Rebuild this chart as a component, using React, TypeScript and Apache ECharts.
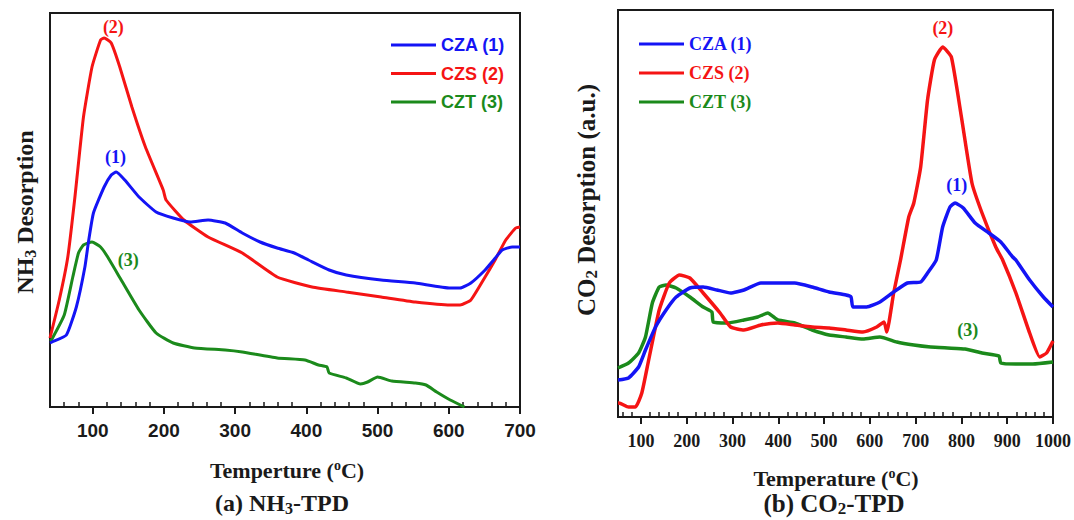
import React, { useEffect, useRef } from "react";
import * as echarts from "echarts";

// ---- NH3-TPD (left panel) : [temperature °C, desorption a.u.]
const nh3CZA: [number, number][] = [
  [40, 64], [43, 65], [63, 72], [77, 100], [89, 140], [94, 165], [101, 194], [116, 220], [126, 232], [133, 235],
  [145, 227], [165, 210], [189, 195], [213, 189], [237, 185], [262, 187], [286, 184], [310, 174], [335, 165],
  [359, 159], [383, 154], [403, 147], [432, 137], [456, 132], [505, 127], [553, 124], [602, 119], [616, 119],
  [631, 124], [651, 137], [663, 147], [675, 157], [689, 160], [700, 160],
];
const nh3CZS: [number, number][] = [
  [40, 69], [53, 107], [65, 150], [75, 210], [87, 290], [99, 340], [111, 367], [116, 369], [126, 364], [138, 340],
  [155, 300], [174, 260], [199, 217], [203, 207], [228, 187], [262, 170], [310, 154], [359, 130], [408, 120],
  [456, 115], [505, 110], [553, 105], [602, 102], [616, 102], [631, 107], [651, 130], [665, 147], [680, 167],
  [694, 179], [700, 180],
];
const nh3CZT: [number, number][] = [
  [40, 66], [42, 67], [60, 92], [72, 130], [80, 154], [87, 162], [99, 165], [111, 160], [121, 150], [140, 127],
  [165, 97], [189, 74], [213, 64], [243, 59], [286, 57], [310, 55], [359, 49], [398, 47], [417, 42], [429, 40],
  [432, 34], [456, 29], [476, 23], [486, 25], [500, 30], [520, 26], [553, 24], [568, 22], [583, 15], [602, 7],
  [622, 0],
];

// ---- CO2-TPD (right panel)
const co2CZA: [number, number][] = [
  [50, 37], [73, 39], [95, 50], [110, 67], [132, 90], [155, 107], [177, 120], [207, 129], [236, 130], [266, 127],
  [296, 124], [325, 127], [362, 134], [399, 134], [436, 134], [474, 130], [511, 125], [548, 122], [559, 120],
  [563, 110], [593, 110], [622, 115], [652, 125], [682, 134], [711, 135], [726, 144], [745, 157], [759, 190],
  [775, 210], [786, 214], [804, 209], [830, 194], [860, 184], [886, 175], [912, 160], [919, 157], [949, 137],
  [979, 120], [1000, 110],
];
const co2CZS: [number, number][] = [
  [50, 14], [52, 14], [73, 10], [88, 10], [102, 24], [117, 57], [140, 107], [162, 134], [184, 142], [207, 139],
  [236, 124], [273, 104], [296, 90], [325, 87], [362, 92], [399, 94], [436, 92], [474, 90], [511, 89], [548, 87],
  [585, 85], [615, 90], [631, 95], [637, 85], [652, 124], [667, 157], [685, 200], [696, 214], [711, 250],
  [726, 317], [741, 357], [759, 370], [778, 360], [800, 300], [823, 234], [845, 204], [875, 170], [890, 157],
  [919, 124], [949, 84], [971, 60], [986, 64], [1000, 76],
];
const co2CZT: [number, number][] = [
  [50, 49], [73, 54], [95, 64], [110, 80], [125, 114], [140, 130], [155, 132], [177, 129], [207, 120], [236, 110],
  [255, 105], [258, 95], [288, 94], [325, 97], [355, 100], [377, 104], [399, 97], [436, 94], [474, 87], [511, 82],
  [548, 80], [585, 78], [622, 80], [659, 75], [696, 72], [733, 70], [770, 69], [808, 68], [845, 64], [882, 61],
  [886, 54], [919, 53], [956, 53], [1000, 55],
];

// ---- axis ticks
const nh3MajorTicks = [100, 200, 300, 400, 500, 600, 700];
const nh3MinorTicks = [60, 80, 120, 140, 160, 180, 220, 240, 260, 280, 320, 340, 360, 380, 420, 440, 460, 480,
  520, 540, 560, 580, 620, 640, 660, 680];
const co2MajorTicks = [100, 200, 300, 400, 500, 600, 700, 800, 900, 1000];
const co2MinorTicks = [60, 80, 120, 140, 160, 180, 220, 240, 260, 280, 320, 340, 360, 380, 420, 440, 460, 480,
  520, 540, 560, 580, 620, 640, 660, 680, 720, 740, 760, 780, 820, 840, 860, 880, 920, 940, 960, 980];

// ---- series names & peak labels [T, value]
const names = ["CZA (1)", "CZS (2)", "CZT (3)"];
const nh3Peaks: [number, number][] = [[132, 250], [129, 380], [150, 147]];
const co2Peaks: [number, number][] = [[790, 232], [759.5, 389], [814, 87]];
const peakTexts = ["(1)", "(2)", "(3)"];

const BLUE = "#1414f5";
const RED = "#f51414";
const GREEN = "#1b8a1b";
const colors = [BLUE, RED, GREEN];
const SERIF = "'Liberation Serif', 'Times New Roman', serif";
const SANS = "'Liberation Sans', Arial, sans-serif";
const INK = "#1a1a1a";

export default function App() {
  const ref = useRef<HTMLDivElement>(null);
  useEffect(() => {
    if (!ref.current) return;
    const chart = echarts.init(ref.current, undefined, { renderer: "svg" });

    const mkSeries = (data: [number, number][], i: number, panel: number) => {
      const peaks = panel === 0 ? nh3Peaks : co2Peaks;
      return {
        type: "line",
        name: names[i],
        xAxisIndex: panel === 0 ? 0 : 2,
        yAxisIndex: panel,
        data,
        symbol: "none",
        showSymbol: false,
        smooth: 0.15,
        color: colors[i],
        lineStyle: { color: colors[i], width: panel === 0 ? 3 : 3.5 },
        z: 3 - i,
        markPoint: {
          symbol: "circle",
          symbolSize: 1,
          itemStyle: { color: "rgba(0,0,0,0)" },
          label: {
            show: true,
            position: "inside",
            formatter: peakTexts[i],
            color: colors[i],
            fontFamily: SERIF,
            fontWeight: "bold",
            fontSize: 18,
          },
          data: [{ coord: peaks[i] }],
        },
      };
    };

    const majorAxis = (grid: number, min: number, max: number, ticks: number[], font: string, fs: number, margin: number) => ({
      type: "value",
      gridIndex: grid,
      position: "bottom",
      min,
      max,
      axisLine: { show: true, onZero: false, lineStyle: { color: INK, width: 2 } },
      axisTick: { show: true, inside: false, length: 7, customValues: ticks, lineStyle: { color: INK, width: 2 } },
      axisLabel: {
        show: true,
        customValues: ticks,
        margin,
        fontSize: fs,
        fontWeight: "bold",
        fontFamily: font,
        color: INK,
        showMinLabel: true,
        showMaxLabel: true,
        formatter: (v: number) => String(v),
      },
      splitLine: { show: false },
    });
    const minorAxis = (grid: number, min: number, max: number, ticks: number[]) => ({
      type: "value",
      gridIndex: grid,
      position: "bottom",
      min,
      max,
      axisLine: { show: false },
      axisTick: { show: true, inside: true, length: 5, customValues: ticks, lineStyle: { color: INK, width: 1.5 } },
      axisLabel: { show: false },
      splitLine: { show: false },
    });

    const bold = (size: number) => ({ fontFamily: SERIF, fontWeight: "bold", fontSize: size, fill: INK });
    const rich = (size: number) => ({
      n: { fontFamily: SERIF, fontWeight: "bold", fontSize: size, lineHeight: size + 2, verticalAlign: "middle", fill: INK, color: INK },
      s: { fontFamily: SERIF, fontWeight: "bold", fontSize: Math.round(size * 0.68), lineHeight: Math.round(size * 0.5), verticalAlign: "bottom", fill: INK, color: INK },
      p: { fontFamily: SERIF, fontWeight: "bold", fontSize: Math.round(size * 0.62), lineHeight: Math.round(size * 0.36), verticalAlign: "top", fill: INK, color: INK },
    });
    const title = (x: number, y: number, text: string, size: number, rot = 0) => ({
      type: "text",
      x,
      y,
      rotation: rot,
      style: { ...bold(size), text, align: "center", verticalAlign: "middle", rich: rich(size) },
    });

    const legend = (left: number, top: number, font: string, gap: number) => ({
      left,
      top,
      orient: "vertical",
      icon: "rect",
      itemWidth: 45,
      itemHeight: 3,
      itemGap: gap,
      selectedMode: false,
      textStyle: { fontSize: 18, fontWeight: "bold", fontFamily: font, lineHeight: 18 },
      data: names.map((n, i) => ({ name: n, icon: "rect", textStyle: { color: colors[i] } })),
    });

    chart.setOption({
      animation: false,
      backgroundColor: "#ffffff",
      grid: [
        { left: 50, top: 13, width: 470, height: 394, show: true, borderColor: INK, borderWidth: 2, backgroundColor: "transparent" },
        { left: 618, top: 10, width: 435, height: 407, show: true, borderColor: INK, borderWidth: 2, backgroundColor: "transparent" },
      ],
      xAxis: [
        majorAxis(0, 40, 700, nh3MajorTicks, SANS, 19, 14),
        minorAxis(0, 40, 700, nh3MinorTicks),
        majorAxis(1, 50, 1000, co2MajorTicks, SERIF, 18, 15),
        minorAxis(1, 50, 1000, co2MinorTicks),
      ],
      yAxis: [
        { type: "value", gridIndex: 0, min: 0, max: 394, show: false },
        { type: "value", gridIndex: 1, min: 0, max: 407, show: false },
      ],
      legend: [legend(386, 31, SANS, 10.5), legend(634, 30, SERIF, 11)],
      series: [
        mkSeries(nh3CZA, 0, 0),
        mkSeries(nh3CZS, 1, 0),
        mkSeries(nh3CZT, 2, 0),
        mkSeries(co2CZA, 0, 1),
        mkSeries(co2CZS, 1, 1),
        mkSeries(co2CZT, 2, 1),
      ],
      graphic: [
        title(25, 212, "{n|NH}{s|3}{n| Desorption}", 24, Math.PI / 2),
        title(586, 200, "{n|CO}{s|2}{n| Desorption (a.u.)}", 25, Math.PI / 2),
        title(287, 470, "{n|Temperture (}{p|o}{n|C)}", 22),
        title(836, 478, "{n|Temperature (}{p|o}{n|C)}", 22),
        title(282, 503, "{n|(a) NH}{s|3}{n|-TPD}", 24),
        title(834, 503, "{n|(b) CO}{s|2}{n|-TPD}", 25),
      ],
    });
    return () => chart.dispose();
  }, []);
  return (
    <div
      ref={ref}
      style={{ position: "fixed", left: 0, top: 0, width: 1074, height: 520, background: "#fff" }}
    />
  );
}
